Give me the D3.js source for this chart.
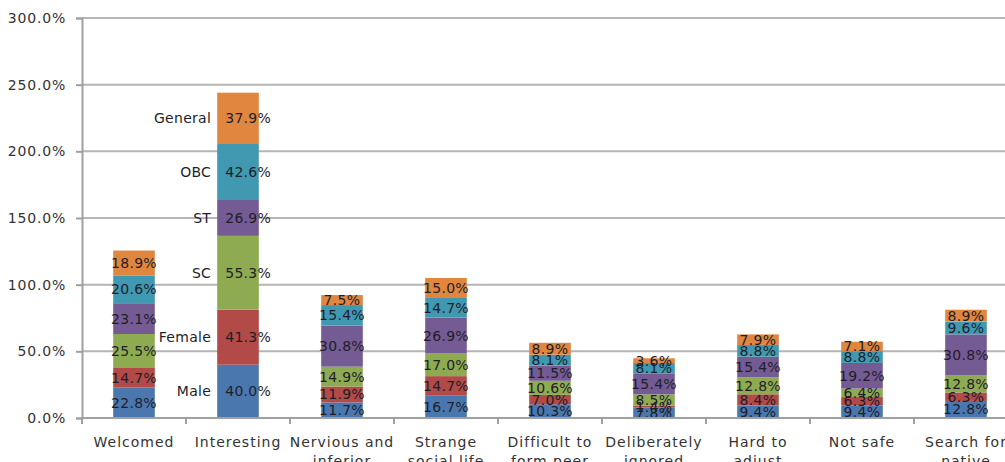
<!DOCTYPE html>
<html>
<head>
<meta charset="utf-8">
<script src="https://cdn.jsdelivr.net/npm/d3@7"></script>
<style>
  body { margin: 0; background: #fff; }
  svg text { font-family: "DejaVu Sans", sans-serif; }
</style>
</head>
<body>
<svg width="1005" height="462"></svg>
<script>
// categories and the two lines of each x label
const categories = ['Welcomed', 'Interesting', 'Nervious and inferior', 'Strange social life',
  'Difficult to form peer', 'Deliberately ignored', 'Hard to adjust', 'Not safe', 'Search for native'];
const labelLines = [['Welcomed'], ['Interesting'], ['Nervious and', 'inferior'], ['Strange', 'social life'],
  ['Difficult to', 'form peer'], ['Deliberately', 'ignored'], ['Hard to', 'adjust'], ['Not safe'], ['Search for', 'native']];

const seriesNames = ['Male', 'Female', 'SC', 'ST', 'OBC', 'General'];
const male    = [22.8, 40.0, 11.7, 16.7, 10.3, 7.8, 9.4, 9.4, 12.8];
const female  = [14.7, 41.3, 11.9, 14.7, 7.0, 1.4, 8.4, 6.3, 6.3];
const sc      = [25.5, 55.3, 14.9, 17.0, 10.6, 8.5, 12.8, 6.4, 12.8];
const st      = [23.1, 26.9, 30.8, 26.9, 11.5, 15.4, 15.4, 19.2, 30.8];
const obc     = [20.6, 42.6, 15.4, 14.7, 8.1, 8.1, 8.8, 8.8, 9.6];
const general = [18.9, 37.9, 7.5, 15.0, 8.9, 3.6, 7.9, 7.1, 8.9];
const yTicks = [0, 50, 100, 150, 200, 250, 300];

const colors = ['#4a78ae', '#b24a47', '#8fab52', '#755b93', '#4198b1', '#e0863f'];

const svg = d3.select('svg');

const table = categories.map((c, i) => ({
  cat: c, Male: male[i], Female: female[i], SC: sc[i], ST: st[i], OBC: obc[i], General: general[i]
}));
const stacked = d3.stack().keys(seriesNames)(table);

const x = d3.scaleBand().domain(categories).range([82, 1018]).paddingInner(0.6).paddingOuter(0.3);
const y = d3.scaleLinear().domain([0, 300]).range([418, 18]);
const step = x.step();

// gridlines
svg.append('g').selectAll('line').data(yTicks.slice(1)).join('line')
  .attr('x1', 82).attr('x2', 1005)
  .attr('y1', d => y(d)).attr('y2', d => y(d))
  .attr('stroke', '#b5b5b5').attr('stroke-width', 2);

// bars
const groups = svg.append('g').selectAll('g').data(stacked).join('g')
  .attr('fill', (d, i) => colors[i]);
groups.selectAll('rect').data(d => d).join('rect')
  .attr('x', d => x(d.data.cat))
  .attr('width', x.bandwidth())
  .attr('y', d => y(d[1]))
  .attr('height', d => y(d[0]) - y(d[1]));

// value labels
stacked.forEach((s, si) => {
  svg.append('g').selectAll('text').data(s).join('text')
    .attr('x', d => d.data.cat === 'Interesting' ? x(d.data.cat) + 8 : x(d.data.cat) + x.bandwidth() / 2)
    .attr('y', d => (y(d[0]) + y(d[1])) / 2 + 5)
    .attr('text-anchor', d => d.data.cat === 'Interesting' ? 'start' : 'middle')
    .attr('font-size', 14)
    .attr('letter-spacing', 0.3)
    .attr('fill', '#1e1e2a')
    .text(d => (d[1] - d[0]).toFixed(1) + '%');
  // series name next to the Interesting bar
  const d = s[1];
  svg.append('text')
    .attr('x', x(d.data.cat) - 6)
    .attr('y', (y(d[0]) + y(d[1])) / 2 + 5)
    .attr('text-anchor', 'end')
    .attr('font-size', 14)
    .attr('letter-spacing', 0.3)
    .attr('fill', '#1e1e2a')
    .text(s.key);
});

// y axis
const yAxis = svg.append('g').attr('transform', 'translate(82,0)')
  .call(d3.axisLeft(y).tickValues(yTicks).tickSize(6).tickPadding(10)
    .tickFormat(d => d.toFixed(1) + '%'));
yAxis.select('.domain').attr('stroke', '#a0a0a0').attr('stroke-width', 2);
yAxis.selectAll('.tick line').attr('stroke', '#a0a0a0').attr('stroke-width', 2);
yAxis.selectAll('text').attr('font-size', 14).attr('letter-spacing', 0.8)
  .attr('fill', '#333').attr('font-family', '"DejaVu Sans", sans-serif');

// x axis baseline and separator ticks
svg.append('line').attr('x1', 82).attr('x2', 1005).attr('y1', y(0)).attr('y2', y(0))
  .attr('stroke', '#a0a0a0').attr('stroke-width', 2);
svg.append('g').selectAll('line').data(d3.range(0, categories.length + 1)).join('line')
  .attr('x1', i => 82 + i * step).attr('x2', i => 82 + i * step)
  .attr('y1', y(0)).attr('y2', y(0) + 6)
  .attr('stroke', '#a0a0a0').attr('stroke-width', 2);

// x labels
const xl = svg.append('g').selectAll('text').data(categories).join('text')
  .attr('text-anchor', 'middle')
  .attr('font-size', 14)
  .attr('letter-spacing', 1)
  .attr('fill', '#333');
xl.each(function (c, i) {
  d3.select(this).selectAll('tspan').data(labelLines[i]).join('tspan')
    .attr('x', x(c) + x.bandwidth() / 2)
    .attr('y', (d, j) => 447 + j * 19)
    .text(d => d);
});
</script>
</body>
</html>
